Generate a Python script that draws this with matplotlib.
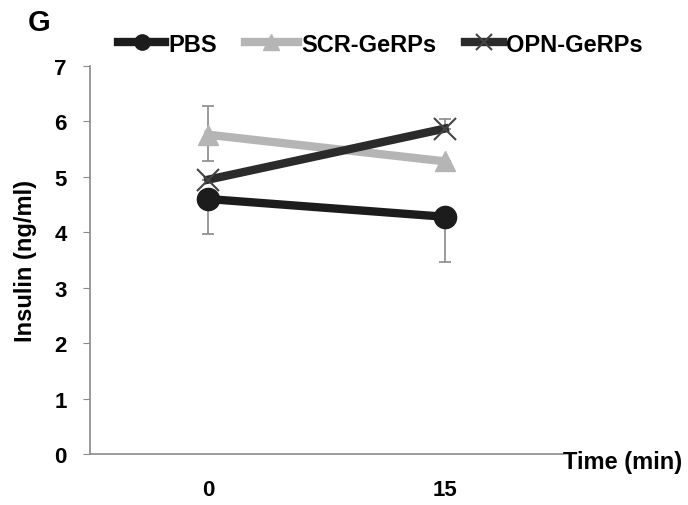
import matplotlib
matplotlib.use("Agg")
import matplotlib.pyplot as plt
from matplotlib.lines import Line2D

plt.rcParams['font.family'] = ['Liberation Sans', 'DejaVu Sans']

categories = ["0", "15"]
series_names = ["PBS", "SCR-GeRPs", "OPN-GeRPs"]
pbs = [4.60, 4.28]
pbs_err_low = [0.63, 0.82]
pbs_err_up = [0.0, 0.0]
scr = [5.76, 5.28]
scr_err_low = [0.47, 0.0]
scr_err_up = [0.52, 0.0]
opn = [4.95, 5.87]
opn_err_low = [0.0, 0.0]
opn_err_up = [0.0, 0.18]

fig = plt.figure(figsize=(6.88, 5.06), dpi=100)
ax = fig.add_axes([0.131, 0.1008, 0.687, 0.7668])

x = list(range(len(categories)))

for vals, lo, up in [(pbs, pbs_err_low, pbs_err_up), (scr, scr_err_low, scr_err_up), (opn, opn_err_low, opn_err_up)]:
    ax.errorbar(x, vals, yerr=[lo, up], fmt='none', ecolor='#8a8a8a', elinewidth=1.2,
                capsize=4, capthick=1.2, zorder=1)

ax.plot(x, scr, color='#b5b5b5', lw=6, marker='^', ms=14, mfc='#b5b5b5', mec='#b5b5b5', zorder=2)
ax.plot(x, opn, color='#2b2b2b', lw=6, zorder=3)
ax.plot(x, opn, ls='none', marker='x', ms=16, mew=1.5, color='#444444', zorder=4)
ax.plot(x, pbs, color='#1c1c1c', lw=6, marker='o', ms=16, mfc='#1c1c1c', mec='#1c1c1c', zorder=5)

ax.set_xlim(-0.5, 1.5)
ax.set_ylim(0, 7)
ax.set_yticks(range(0, 8))
ax.set_xticks(x)
ax.set_xticklabels(categories)
for lbl in ax.get_yticklabels() + ax.get_xticklabels():
    lbl.set_fontweight('bold')
    lbl.set_fontsize(16)
ax.tick_params(axis='y', direction='out', length=5, color='#8a8a8a', pad=12)
ax.tick_params(axis='x', length=0, pad=18)
for s in ['top', 'right']:
    ax.spines[s].set_visible(False)
for s in ['left', 'bottom']:
    ax.spines[s].set_color('#8a8a8a')
    ax.spines[s].set_linewidth(1.2)

ax.set_ylabel("Insulin (ng/ml)", fontsize=17, fontweight='bold', labelpad=12)
fig.text(0.905, 0.085, "Time (min)", fontsize=17, fontweight='bold', ha='center', va='center')
fig.text(0.057, 0.955, "G", fontsize=21, fontweight='bold', ha='center', va='center')

handles = [
    Line2D([], [], color='#1c1c1c', lw=6, marker='o', ms=11),
    Line2D([], [], color='#b5b5b5', lw=6, marker='^', ms=11),
    Line2D([], [], color='#2b2b2b', lw=6, marker='x', ms=12, mew=1.5, mec='#444444'),
]
legend_x = [0.1715, 0.356, 0.676]
handle_len = [2.0, 2.25, 1.6]
for h, name, lx, hl in zip(handles, series_names, legend_x, handle_len):
    fig.legend([h], [name], loc='center left', bbox_to_anchor=(lx, 0.911),
               frameon=False, handlelength=hl, handletextpad=0.15, borderpad=0,
               borderaxespad=0, prop={'weight': 'bold', 'size': 17})

fig.savefig("out.png", dpi=100)
